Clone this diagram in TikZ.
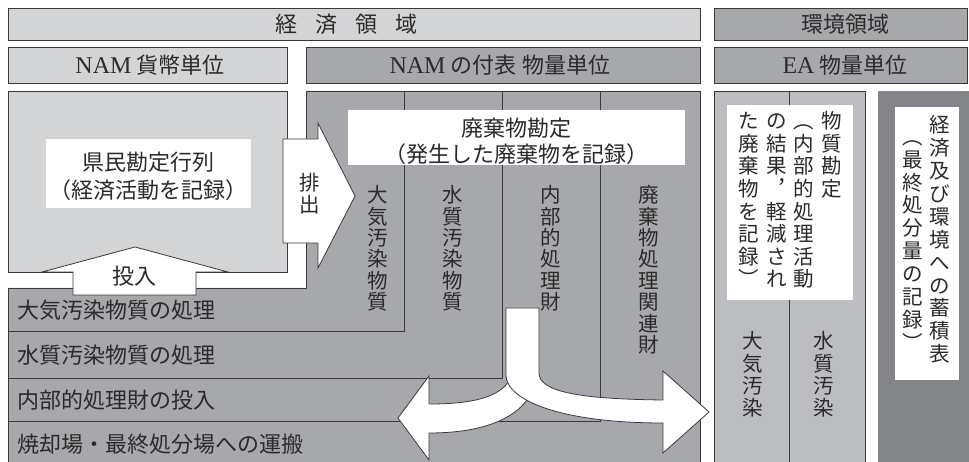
\documentclass[tikz,border=0pt]{standalone}
\usepackage{fontspec}
\setmainfont{Liberation Serif}
\newfontfamily\cjk{Noto Sans CJK JP}
\definecolor{lightg}{HTML}{D3D4D6}
\definecolor{midg}{HTML}{A7A8AB}
\definecolor{eag}{HTML}{BCBDC0}
\definecolor{darkg}{HTML}{848588}
\definecolor{linec}{HTML}{3A3A3A}
\definecolor{txt}{HTML}{2A2A2A}
\newcommand\lat[1]{{\rmfamily\fontsize{24}{24}\selectfont #1}}
\newcommand\vcol[5]{\foreach \ch [count=\i from 0] in {#5} {\node[vch] (#1-\i) at (#2,{#3+\i*#4}) {\ch};}}
\begin{document}
\begin{tikzpicture}[x=1pt,y=-1pt,line width=0.8pt,
  ht/.style={font=\cjk\fontsize{22}{22}\selectfont,text=txt,inner sep=0pt,text height=19.4pt,text depth=2.6pt},
  vch/.style={font=\cjk\fontsize{20.5}{20.5}\selectfont,text=txt,inner sep=0pt,text height=18pt,text depth=2.5pt},
  box/.style={draw=linec,fill=#1},
  arrowst/.style={draw=linec,fill=white,line width=0.8pt,line join=miter}]
\useasboundingbox (0,0) rectangle (969,462);
\clip (0,0) rectangle (969,462);
% header bars
\draw[box=lightg] (8,8) rectangle (700,40);
\draw[box=midg] (714,8) rectangle (967,40);
\draw[box=lightg] (8,47) rectangle (287,83);
\draw[box=midg] (306,47) rectangle (700,83);
\draw[box=midg] (714,47) rectangle (967,83);
\node[ht] (keizai) at (346.5,24) {経\hspace{18pt}済\hspace{18pt}領\hspace{18pt}域};
\node[ht] (kankyo) at (845,24) {環境領域};
\node[ht] (nam1) at (150,65) {\lat{NAM}\hspace{5pt}貨幣単位};
\node[ht] (nam2) at (500,65) {\lat{NAM}\hspace{5pt}の付表\hspace{6pt}物量単位};
\node[ht] (ea) at (845,65) {\lat{EA}\hspace{5pt}物量単位};
% main left box
\draw[box=lightg] (8,91) rectangle (287,272);
% NAM appendix L-region
\draw[box=midg] (306,91) -- (700,91) -- (700,470) -- (8,470) -- (8,288) -- (306,288) -- cycle;
\draw[linec] (404,91) -- (404,331) -- (8,331);
\draw[linec] (502,91) -- (502,378) -- (8,378);
\draw[linec] (600,91) -- (600,421) -- (8,421);
% EA box
\draw[box=eag] (714,91) rectangle (865,470);
\draw[linec] (789,91) -- (789,470);
\fill[white] (727,105) rectangle (853,300);
% dark box
\fill[darkg] (878,91) rectangle (975,470);
\fill[white] (895,107) rectangle (959,380);
% white label boxes
\fill[white] (46,139) rectangle (251,208);
\fill[white] (348,110) rectangle (685,165);
% block arrows
\draw[arrowst] (283,139) -- (318,139) -- (318,123) -- (355,196) -- (318,268) -- (318,243) -- (283,243) -- cycle;
\draw[arrowst] (73,295) -- (73,272) -- (42,272) -- (135,247) -- (228,272) -- (196,272) -- (196,295) -- cycle;
\draw[arrowst] (515,360) .. controls (515,395) and (480,404) .. (429,404) -- (429,376) -- (398,418) -- (429,460) -- (429,433) .. controls (480,433) and (518,420) .. (532,392) -- cycle;
\draw[arrowst] (506,308) -- (539,308) -- (539,373) .. controls (539,392) and (580,399) .. (663,400) -- (663,371) -- (709,412) -- (663,453) -- (663,423) .. controls (560,423) and (506,400) .. (506,375) -- cycle;
% texts
\node[ht] (kenmin1) at (148.5,162) {県民勘定行列};
\node[ht] (kenmin2) at (148.5,190) {（経済活動を記録）};
\node[ht] (haiki1) at (516,128) {廃棄物勘定};
\node[ht] (haiki2) at (516,154) {（発生した廃棄物を記録）};
\node[ht] (tonyu) at (134,276) {投入};
\node[ht,anchor=west] (row1) at (17,310) {大気汚染物質の処理};
\node[ht,anchor=west] (row2) at (17,355) {水質汚染物質の処理};
\node[ht,anchor=west] (row3) at (17,400) {内部的処理財の投入};
\node[ht,anchor=west] (row4) at (17,444) {焼却場・最終処分場への運搬};
\vcol{haishutsu}{310}{183}{22}{排,出}
\vcol{taiki}{378}{195}{21.4}{大,気,汚,染,物,質}
\vcol{suishitsu}{453}{195}{21.4}{水,質,汚,染,物,質}
\vcol{naibu}{551}{195}{21.4}{内,部,的,処,理,財}
\vcol{haikibutsu}{649}{195}{21.4}{廃,棄,物,処,理,関,連,財}
\vcol{ea1}{832}{121}{22.6}{物,質,勘,定}
\vcol{ea2}{804}{121}{22.6}{︵,内,部,的,処,理,活,動}
\vcol{ea3}{777}{121}{22.6}{の,結,果,︐,軽,減,さ,れ}
\vcol{ea4}{749}{121}{22.6}{た,廃,棄,物,を,記,録,︶}
\vcol{eaair}{753}{341}{22.3}{大,気,汚,染}
\vcol{eawater}{824}{341}{22.3}{水,質,汚,染}
\vcol{stock1}{940}{125}{22.9}{経,済,及,び,環,境,へ,の,蓄,積,表}
\vcol{stock2}{913}{136.5}{22.9}{︵,最,終,処,分,量,の,記,録,︶}
\end{tikzpicture}
\end{document}
